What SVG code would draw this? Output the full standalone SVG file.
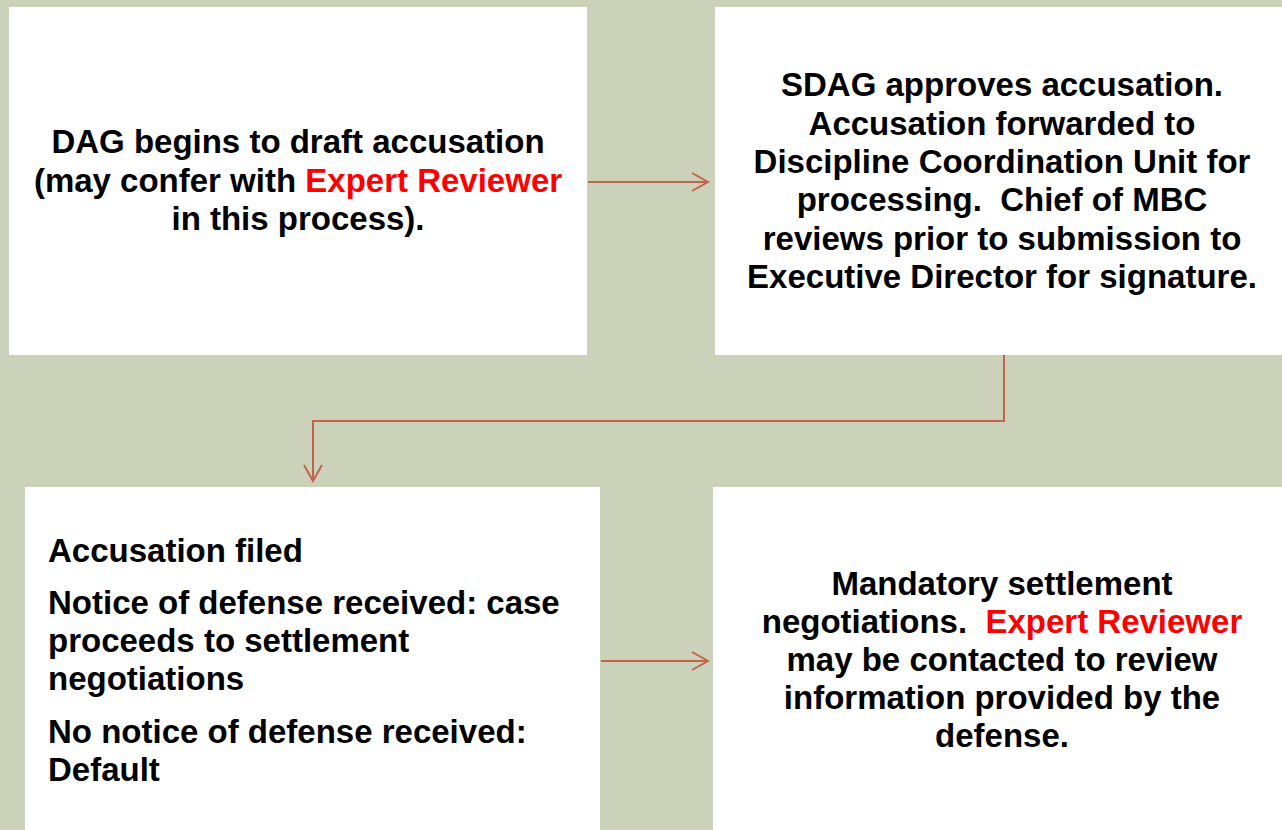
<svg xmlns="http://www.w3.org/2000/svg" width="1282" height="830" viewBox="0 0 1282 830">
<style>
.bg{fill:#CCD1B9}
.box{fill:#FFFFFF}
.t{font-family:"Liberation Sans",Arial,sans-serif;font-size:33px;font-weight:bold;fill:#000}
.c{text-anchor:middle}
.red{fill:#FF0000}
.conn{fill:none;stroke:#C0654A;stroke-width:2}
</style>
<defs>
<marker id="arr" markerWidth="20" markerHeight="20" refX="18" refY="10" orient="auto" markerUnits="userSpaceOnUse">
<path d="M2,1 L18,10 L2,19" fill="none" stroke="#C0654A" stroke-width="2"/>
</marker>
</defs>
<rect class="bg" x="0" y="0" width="1282" height="830"/>
<g id="node1">
<rect class="box" x="9" y="7" width="578" height="348"/>
<text class="t c" x="298" y="153">DAG begins to draft accusation</text>
<text class="t c" x="298" y="192">(may confer with <tspan class="red">Expert Reviewer</tspan></text>
<text class="t c" x="298" y="230">in this process).</text>
</g>
<g id="node2">
<rect class="box" x="715" y="7" width="567" height="348"/>
<text class="t c" x="1002" y="96">SDAG approves accusation.</text>
<text class="t c" x="1002" y="135">Accusation forwarded to</text>
<text class="t c" x="1002" y="173">Discipline Coordination Unit for</text>
<text class="t c" x="1002" y="211" xml:space="preserve">processing.  Chief of MBC</text>
<text class="t c" x="1002" y="250">reviews prior to submission to</text>
<text class="t c" x="1002" y="288">Executive Director for signature.</text>
</g>
<g id="node3">
<rect class="box" x="25" y="487" width="575" height="343"/>
<text class="t" x="48" y="562">Accusation filed</text>
<text class="t" x="48" y="614">Notice of defense received: case</text>
<text class="t" x="48" y="652">proceeds to settlement</text>
<text class="t" x="48" y="690">negotiations</text>
<text class="t" x="48" y="743">No notice of defense received:</text>
<text class="t" x="48" y="781">Default</text>
</g>
<g id="node4">
<rect class="box" x="713" y="487" width="569" height="343"/>
<text class="t c" x="1002" y="595">Mandatory settlement</text>
<text class="t c" x="1002" y="633" xml:space="preserve">negotiations.  <tspan class="red">Expert Reviewer</tspan></text>
<text class="t c" x="1002" y="671">may be contacted to review</text>
<text class="t c" x="1002" y="709">information provided by the</text>
<text class="t c" x="1002" y="747">defense.</text>
</g>
<g id="connectors">
<path class="conn" d="M588,182 H708" marker-end="url(#arr)"/>
<path class="conn" d="M1004,355 V421 H313 V481" marker-end="url(#arr)"/>
<path class="conn" d="M601,661 H708" marker-end="url(#arr)"/>
</g>
</svg>
